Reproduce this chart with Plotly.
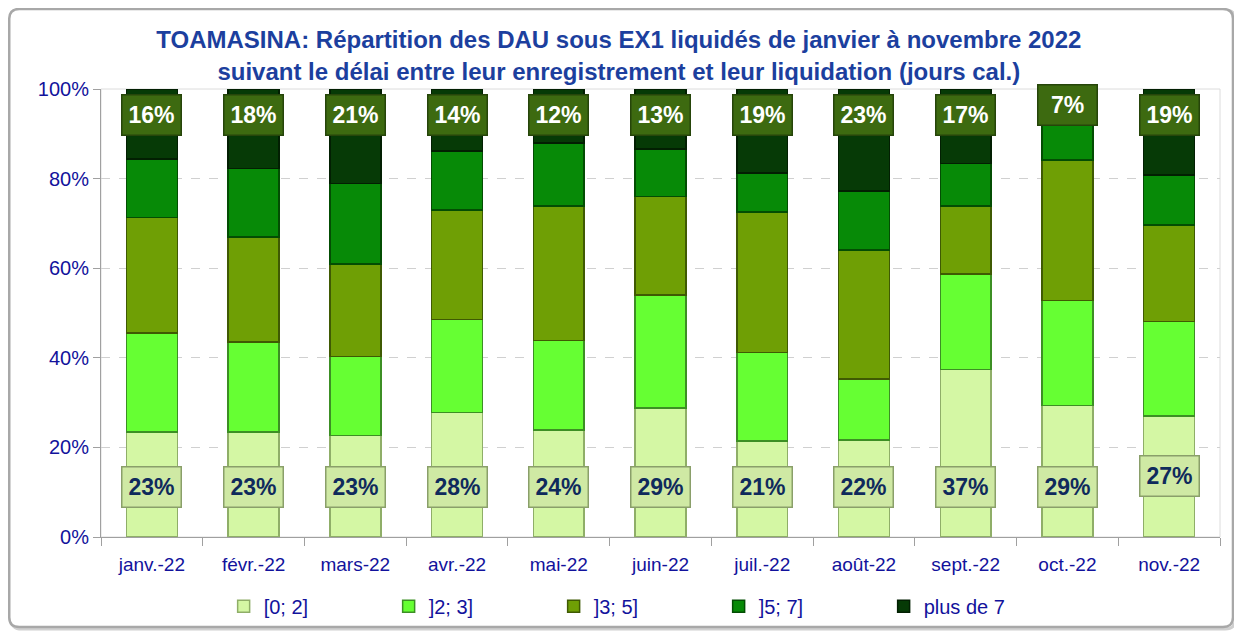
import plotly.graph_objects as go

months = ["janv.-22", "févr.-22", "mars-22", "avr.-22", "mai-22", "juin-22",
          "juil.-22", "août-22", "sept.-22", "oct.-22", "nov.-22"]

# parts en %
d0_2 = [23.4, 23.4, 22.7, 27.8, 23.9, 28.8, 21.4, 21.6, 37.4, 29.3, 27.0]
d2_3 = [22.1, 20.1, 17.6, 20.8, 20.0, 25.2, 19.8, 13.7, 21.3, 23.5, 21.1]
d3_5 = [25.8, 23.5, 20.6, 24.4, 30.0, 22.0, 31.3, 28.8, 15.2, 31.4, 21.5]
d5_7 = [13.1, 15.3, 18.0, 13.2, 14.0, 10.6, 8.75, 13.1, 9.5, 8.4, 11.2]
plus7 = [15.6, 17.7, 21.1, 13.8, 12.1, 13.4, 18.75, 22.8, 16.6, 7.4, 19.2]

series = [
    ("[0; 2]", d0_2, "#d4f7a4", "#8fae68"),
    ("]2; 3]", d2_3, "#66ff33", "#3c8f24"),
    ("]3; 5]", d3_5, "#6f9f05", "#3f5a03"),
    ("]5; 7]", d5_7, "#078a07", "#034d03"),
    ("plus de 7", plus7, "#063a06", "#021f02"),
]

navy = "#12129c"
font = "Liberation Sans, Arial, sans-serif"

fig = go.Figure()
for name, vals, col, edge in series:
    fig.add_bar(x=months, y=vals, name=name,
                marker_color=col, marker_line_color=edge, marker_line_width=1.5)

# etiquettes
for i, m in enumerate(months):
    ytop = 96.4 if m == "oct.-22" else 94.1
    fig.add_annotation(x=m, y=ytop, text="<b>%d%%</b>" % round(plus7[i]),
                       showarrow=False, font=dict(color="white", size=23, family=font),
                       bgcolor="#3d6a10", bordercolor="#26450a", borderwidth=1.5,
                       width=56, height=37)
    ybot = 13.6 if m == "nov.-22" else 11.2
    fig.add_annotation(x=m, y=ybot, text="<b>%d%%</b>" % round(d0_2[i]),
                       showarrow=False, font=dict(color="#0f2a5c", size=23, family=font),
                       bgcolor="#cfe9a4", bordercolor="#8a9f6a", borderwidth=1.5,
                       width=56, height=37)


def rounded(x0, x1, y0, y1, rx, ry):
    return (f"M {x0+rx},{y1} L {x1-rx},{y1} Q {x1},{y1} {x1},{y1-ry} "
            f"L {x1},{y0+ry} Q {x1},{y0} {x1-rx},{y0} L {x0+rx},{y0} "
            f"Q {x0},{y0} {x0},{y0+ry} L {x0},{y1-ry} Q {x0},{y1} {x0+rx},{y1} Z")


# cadre arrondi + ombre
fig.add_shape(type="path", xref="paper", yref="paper", layer="below",
              path=rounded(-0.080, 1.0136, -0.2055, 1.1766, 0.009, 0.022),
              line=dict(color="#d0d0d0", width=3))
fig.add_shape(type="path", xref="paper", yref="paper", layer="below",
              path=rounded(-0.082, 1.0116, -0.2009, 1.1786, 0.009, 0.022),
              line=dict(color="#a8a8a8", width=2.5), fillcolor="white")
# bordure de la zone de tracé
fig.add_shape(type="rect", xref="paper", yref="paper", layer="below",
              x0=0, x1=1, y0=0, y1=1, line=dict(color="#dcdcdc", width=1))

fig.update_layout(
    width=1234, height=625,
    margin=dict(l=93, r=22, t=81, b=96, autoexpand=False),
    barmode="stack", bargap=0.5,
    paper_bgcolor="white", plot_bgcolor="rgba(0,0,0,0)",
    font=dict(family=font, color=navy),
    title=dict(text="<b>TOAMASINA: Répartition des DAU sous EX1 liquidés de janvier à novembre 2022<br>"
                    "suivant le délai entre leur enregistrement et leur liquidation (jours cal.)</b>",
               x=0.495, xanchor="center", y=0.9355, yanchor="middle",
               font=dict(size=24, color="#1c3f9e", family=font)),
    legend=dict(orientation="h", x=0.1096, xanchor="left", y=-0.111, yanchor="top",
                traceorder="normal", bgcolor="rgba(0,0,0,0)",
                entrywidth=120, entrywidthmode="pixels",
                font=dict(size=20, color=navy)),
)

fig.update_yaxes(range=[0, 100], ticksuffix="%", dtick=20,
                 tickfont=dict(size=20, color=navy),
                 showgrid=True, gridcolor="#d0d0d0", griddash="dash",
                 showline=True, linecolor="#a0a0a0", ticks="outside",
                 tickcolor="#a0a0a0", ticklen=7, zeroline=False)
fig.update_xaxes(tickfont=dict(size=19, color=navy), ticklabelstandoff=10,
                 showline=True, linecolor="#a0a0a0", mirror=False,
                 ticks="outside", tickson="boundaries", tickcolor="#a0a0a0", ticklen=8)

fig.write_html("out.html")
